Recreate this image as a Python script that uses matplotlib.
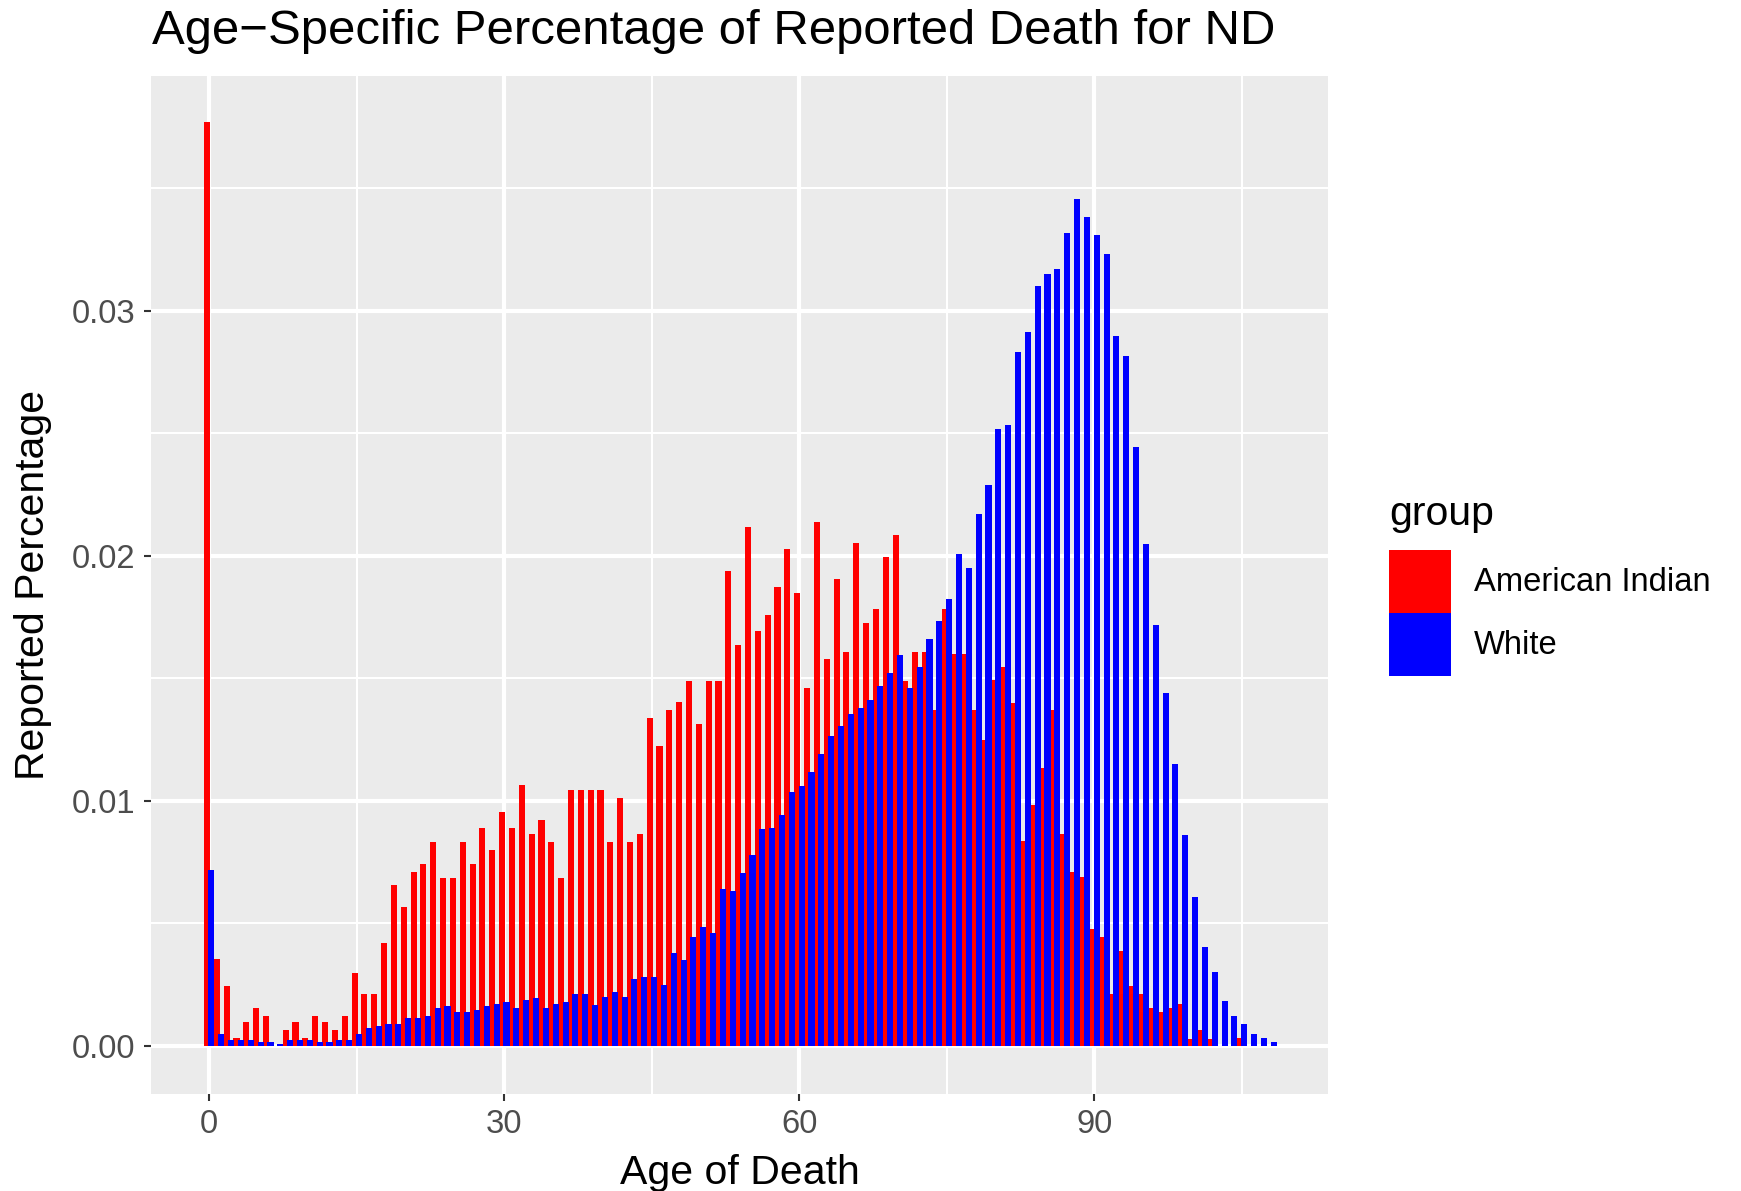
import numpy as np
import matplotlib
matplotlib.use("Agg")
import matplotlib.pyplot as plt
from matplotlib.patches import Patch

plt.rcParams["font.family"] = ["Liberation Sans", "DejaVu Sans"]

# reported share of deaths by single year of age, ND
ages = np.arange(0, 109)

american_indian = [
    0.0377, 0.00357, 0.00243, 0.00033, 0.00098, 0.00154, 0.00121, 0.0, 0.00065, 0.00098,
    0.00033, 0.00121, 0.00098, 0.00065, 0.00121, 0.00299, 0.00211, 0.00211, 0.00421, 0.00655,
    0.00566, 0.00711, 0.00744, 0.00832, 0.00687, 0.00687, 0.00832, 0.00744, 0.00889, 0.00800,
    0.00955, 0.00889, 0.01067, 0.00865, 0.00922, 0.00832, 0.00687, 0.01043, 0.01043, 0.01043,
    0.01043, 0.00834, 0.01012, 0.00834, 0.00866, 0.01337, 0.01224, 0.01370, 0.01402, 0.01491,
    0.01313, 0.01491, 0.01491, 0.01937, 0.01637, 0.02116, 0.01695, 0.01758, 0.01873, 0.02027,
    0.01849, 0.01459, 0.02140, 0.01580, 0.01905, 0.01606, 0.02051, 0.01727, 0.01784, 0.01994,
    0.02085, 0.01491, 0.01606, 0.01606, 0.01370, 0.01783, 0.01600, 0.01600, 0.01371, 0.01247,
    0.01492, 0.01547, 0.01400, 0.00835, 0.00982, 0.01133, 0.01371, 0.00865, 0.00712, 0.00689,
    0.00478, 0.00446, 0.00213, 0.00389, 0.00243, 0.00213, 0.00156, 0.00140, 0.00156, 0.00172,
    0.00030, 0.00064, 0.00030, 0.0, 0.0, 0.00033, 0.0, 0.0, 0.0,
]

white = [
    0.00720, 0.00049, 0.00024, 0.00024, 0.00024, 0.00016, 0.00016, 0.00008, 0.00024, 0.00024,
    0.00024, 0.00016, 0.00016, 0.00024, 0.00024, 0.00049, 0.00072, 0.00081, 0.00090, 0.00090,
    0.00113, 0.00113, 0.00121, 0.00154, 0.00162, 0.00137, 0.00137, 0.00145, 0.00162, 0.00170,
    0.00178, 0.00154, 0.00186, 0.00194, 0.00154, 0.00170, 0.00178, 0.00211, 0.00211, 0.00169,
    0.00201, 0.00219, 0.00201, 0.00275, 0.00282, 0.00282, 0.00251, 0.00381, 0.00349, 0.00446,
    0.00486, 0.00462, 0.00640, 0.00633, 0.00705, 0.00778, 0.00884, 0.00891, 0.00941, 0.01038,
    0.01062, 0.01118, 0.01192, 0.01264, 0.01305, 0.01353, 0.01378, 0.01411, 0.01467, 0.01524,
    0.01597, 0.01459, 0.01548, 0.01662, 0.01734, 0.01822, 0.02009, 0.01952, 0.02172, 0.02291,
    0.02517, 0.02533, 0.02833, 0.02913, 0.03101, 0.03149, 0.03172, 0.03318, 0.03455, 0.03382,
    0.03311, 0.03231, 0.02897, 0.02815, 0.02444, 0.02048, 0.01716, 0.01442, 0.01149, 0.00860,
    0.00609, 0.00403, 0.00300, 0.00185, 0.00122, 0.00090, 0.00049, 0.00033, 0.00016,
]

groups = ["American Indian", "White"]
colors = ["#FF0000", "#0000FF"]
x_ticks = [0, 30, 60, 90]
y_ticks = [0.00, 0.01, 0.02, 0.03]
y_tick_labels = ["0.00", "0.01", "0.02", "0.03"]

fig = plt.figure(figsize=(17.41, 11.91), dpi=100)
ax = fig.add_axes([0.0867, 0.0814, 0.763 - 0.0867, 0.9366 - 0.0814])
ax.set_facecolor("#EBEBEB")

# red first, blue drawn on top (slightly overlapping, like the original)
ax.bar(ages - 0.2, american_indian, width=0.62, color=colors[0], linewidth=0, zorder=2)
ax.bar(ages + 0.25, white, width=0.62, color=colors[1], linewidth=0, zorder=3)

ax.set_xlim(-5.9, 113.8)
ax.set_ylim(-0.00196, 0.0396)
ax.set_xticks(x_ticks)
ax.set_xticks([15, 45, 75, 105], minor=True)
ax.set_yticks(y_ticks)
ax.set_yticklabels(y_tick_labels)
ax.set_yticks([0.005, 0.015, 0.025, 0.035], minor=True)

ax.set_axisbelow(True)
ax.grid(which="major", color="white", linewidth=3)
ax.grid(which="minor", color="white", linewidth=1.5)
ax.tick_params(which="minor", length=0)
ax.tick_params(which="major", length=5, width=1.5, color="#333333",
               labelsize=23.6, labelcolor="#4D4D4D", pad=6)
for s in ax.spines.values():
    s.set_visible(False)

fig.text(0.0873, 0.9735, "Age\u2212Specific Percentage of Reported Death for ND",
         fontsize=35.4, ha="left", va="center")
fig.text(0.4247, 0.0155, "Age of Death", fontsize=29.5, ha="center", va="center")
fig.text(0.019, 0.509, "Reported Percentage", fontsize=29.5, ha="center",
         va="center", rotation=90)

handles = [Patch(facecolor=c, edgecolor="none") for c in colors]
leg = fig.legend(handles, groups, title="group", loc="upper left",
                 bbox_to_anchor=(0.798, 0.5844), frameon=False, fontsize=23.6,
                 title_fontsize=29.5, handlelength=1.89, handleheight=2.58,
                 labelspacing=0, handletextpad=0.7, borderpad=0, borderaxespad=0,
                 alignment="left")
# a bit of room between "group" and the keys
leg._legend_box.sep = 12

fig.savefig("out.png", dpi=100)
